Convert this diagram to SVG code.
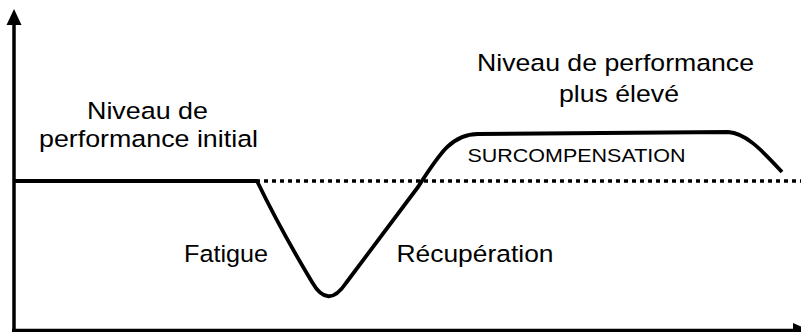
<svg xmlns="http://www.w3.org/2000/svg" width="801" height="332" viewBox="0 0 801 332">
<style>
.axis{stroke:#000;stroke-width:3.5;fill:none}
.curve{stroke:#000;stroke-width:3.8;fill:none;stroke-linejoin:round}
.dot{stroke:#000;stroke-width:3.5;fill:none;stroke-dasharray:4 4}
.t{font-family:"Liberation Sans",Arial,sans-serif;font-size:24.5px;fill:#000;text-anchor:middle}
.s{font-family:"Liberation Sans",Arial,sans-serif;font-size:18.5px;fill:#000;text-anchor:middle}
</style>
<rect width="801" height="332" fill="#fff"/>
<g id="axes">
<line class="axis" x1="14" y1="332" x2="14" y2="22"/>
<polygon points="14,9 6.5,25 21.5,25" fill="#000"/>
<line class="axis" x1="12" y1="330.5" x2="796" y2="330.5"/>
<polygon points="793,323 810,330.5 793,338" fill="#000"/>
</g>
<g id="connectors">
<line class="dot" x1="16" y1="181" x2="801" y2="181"/>
<path class="curve" d="M15,181 L257,181 C272,212 294,252 312,282 Q328,310 346,283 L418,187 C440,153 452,134 478,134 L728,132 C745,133 760,148 782,172"/>
</g>
<g id="initial">
<text class="t" x="147.5" y="119" textLength="121" lengthAdjust="spacingAndGlyphs">Niveau de</text>
<text class="t" x="148.5" y="147" textLength="219" lengthAdjust="spacingAndGlyphs">performance initial</text>
</g>
<g id="eleve">
<text class="t" x="615.5" y="71" textLength="277" lengthAdjust="spacingAndGlyphs">Niveau de performance</text>
<text class="t" x="619" y="102" textLength="120" lengthAdjust="spacingAndGlyphs">plus élevé</text>
</g>
<g id="surcomp">
<text class="s" x="576.5" y="162" textLength="218" lengthAdjust="spacingAndGlyphs">SURCOMPENSATION</text>
</g>
<g id="fatigue">
<text class="t" x="226" y="262" textLength="84" lengthAdjust="spacingAndGlyphs">Fatigue</text>
</g>
<g id="recup">
<text class="t" x="475" y="262" textLength="157" lengthAdjust="spacingAndGlyphs">Récupération</text>
</g>
</svg>
